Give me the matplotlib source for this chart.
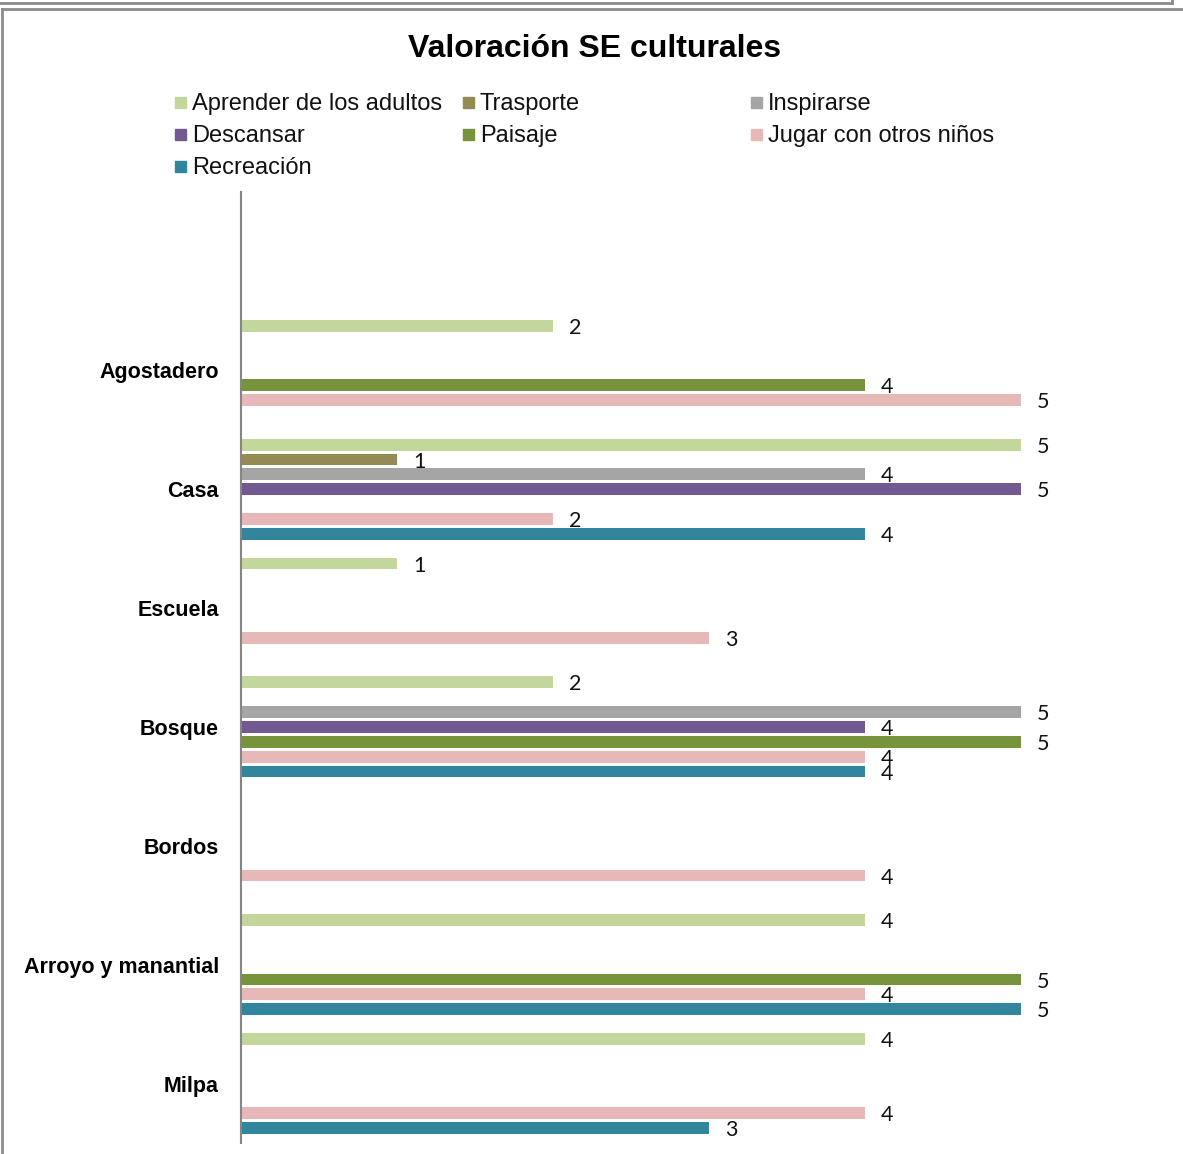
import matplotlib.pyplot as plt
import numpy as np
from matplotlib.lines import Line2D
from matplotlib.patches import Rectangle

# ===============================
# DATOS
# ===============================
categorias = ["", "Agostadero", "Casa", "Escuela", "Bosque", "Bordos",
              "Arroyo y manantial", "Milpa"]

series = ["Aprender de los adultos", "Trasporte", "Inspirarse", "Descansar",
          "Paisaje", "Jugar con otros niños", "Recreación"]

colores = ["#C3D69B", "#948A54", "#A5A5A5", "#725990",
           "#77933C", "#E6B9B8", "#31859C"]

# None = sin valor en esa categoría
aprender   = [None, 2, 5, 1, 2, None, 4, 4]
trasporte  = [None, None, 1, None, None, None, None, None]
inspirarse = [None, None, 4, None, 5, None, None, None]
descansar  = [None, None, 5, None, 4, None, None, None]
paisaje    = [None, 4, None, None, 5, None, 5, None]
jugar      = [None, 5, 2, 3, 4, 4, 4, 4]
recreacion = [None, None, 4, None, 4, None, 5, 3]

valores = [aprender, trasporte, inspirarse, descansar, paisaje, jugar, recreacion]

# ===============================
# FIGURA
# ===============================
W, H = 1183, 1154
fig = plt.figure(figsize=(W / 100, H / 100), dpi=100)

ax = fig.add_axes([241 / W, 1 - 1143 / H, 780 / W, (1143 - 192) / H])

slot = 1 / 8
alto = slot * 0.8
y_base = np.arange(len(categorias))

for i, (nombre, vals, col) in enumerate(zip(series, valores, colores)):
    for k, v in enumerate(vals):
        if v is None:
            continue
        y = y_base[k] + (i - 3) * slot
        ax.barh(y, v, height=alto, color=col, linewidth=0)
        ax.annotate(str(v), (v, y), xytext=(11.5, -1.5), textcoords="offset points",
                    ha="left", va="center", fontsize=15.5, family="Lato",
                    color="#111111", annotation_clip=False)

ax.set_xlim(0, 5)
ax.set_ylim(len(categorias) - 0.5, -0.5)
ax.set_yticks(y_base)
ax.set_yticklabels(categorias, fontsize=15.5, fontweight="bold", family="Liberation Sans")
ax.tick_params(axis="y", length=0, pad=16)
ax.set_xticks([])
for s in ["top", "right", "bottom"]:
    ax.spines[s].set_visible(False)
ax.spines["left"].set_color("#868686")
ax.spines["left"].set_linewidth(1.5)

# ===============================
# TÍTULO Y LEYENDA
# ===============================
fig.text(595 / W, 1 - 49 / H, "Valoración SE culturales", ha="center", va="center",
         fontsize=23, fontweight="bold", family="Liberation Sans")

col_x = [175, 463, 751]
fila_y = [103, 135, 167]
for i, (nombre, col) in enumerate(zip(series, colores)):
    fx = col_x[i % 3]
    fy = fila_y[i // 3]
    fig.patches.append(Rectangle((fx / W, 1 - (fy + 5) / H), 11 / W, 11 / H,
                                 transform=fig.transFigure, color=col))
    fig.text((fx + 17) / W, 1 - (fy + 1) / H, nombre, ha="left", va="center",
             fontsize=17, family="Liberation Sans", color="#111111")

# marcos
gris = "#8C8C8C"
fig.add_artist(Line2D([0, 1172 / W], [1 - 3 / H, 1 - 3 / H], color=gris, lw=2,
                      transform=fig.transFigure))
fig.add_artist(Line2D([1172 / W, 1172 / W], [1, 1 - 3 / H], color=gris, lw=2,
                      transform=fig.transFigure))
fig.add_artist(Line2D([2 / W, 1], [1 - 9 / H, 1 - 9 / H], color=gris, lw=2,
                      transform=fig.transFigure))
fig.add_artist(Line2D([2 / W, 2 / W], [0, 1 - 9 / H], color=gris, lw=2,
                      transform=fig.transFigure))

fig.savefig("out.png", dpi=100)
